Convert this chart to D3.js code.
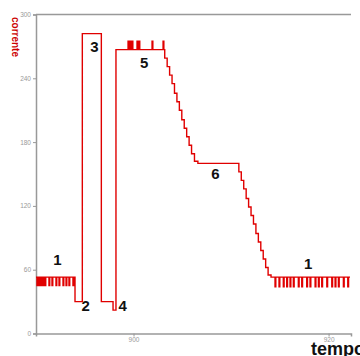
<!DOCTYPE html>
<html><head><meta charset="utf-8">
<script src="https://cdn.jsdelivr.net/npm/d3@7"></script>
<style>html,body{margin:0;padding:0;background:#fff;overflow:hidden}</style>
</head><body><svg id="c" width="360" height="356"></svg>
<script>
const yTicks = [0, 60, 120, 180, 240, 300];
const xTicks = [900, 920];
const xLabel = "tempo";
const yLabel = "corrente";
const time = [
 890.0, 890.1, 890.2, 890.3, 890.4, 890.5, 890.6, 890.7, 890.8, 890.9, 891.0,
 891.33, 891.41, 891.64, 891.72, 892.05, 892.13, 892.36, 892.44, 892.77, 892.85,
 893.08, 893.16, 893.38, 893.46, 893.79, 893.87,
 894.0, 894.75, 896.7, 897.9, 898.2,
 899.44, 899.52, 899.64, 899.72, 899.85, 899.93, 900.36, 900.44, 900.56, 900.64,
 901.9, 901.98, 903.03, 903.11,
 903.2, 903.45, 903.7, 903.95, 904.2, 904.45, 904.7, 904.95, 905.2, 905.45, 905.7, 905.95, 906.25, 906.6,
 910.8, 911.05, 911.3, 911.55, 911.8, 912.05, 912.3, 912.55, 912.8, 913.05, 913.3, 913.55, 913.8, 914.1,
 914.51, 914.59, 914.92, 915.0, 915.36, 915.44, 915.71, 915.79, 916.05, 916.13, 916.39, 916.47,
 916.9, 916.98, 917.25, 917.33, 917.76, 917.84, 918.1, 918.18, 918.62, 918.7, 918.96, 919.04,
 919.3, 919.38, 919.82, 919.9, 920.33, 920.41, 920.67, 920.75, 921.01, 921.09, 921.52, 921.6,
 921.97, 922.05, 922.2
];
const current = [
 53, 45, 53, 45, 53, 45, 53, 45, 53, 45, 53,
 45, 53, 45, 53, 45, 53, 45, 53, 45, 53,
 45, 53, 45, 53, 45, 53,
 30, 282, 30, 22, 267,
 275, 267, 275, 267, 275, 267, 275, 267, 275, 267,
 275, 267, 275, 267,
 259, 251, 243, 235, 226, 218, 210, 201, 193, 185, 177, 169, 162, 160,
 152, 144, 136, 127, 119, 111, 103, 94, 86, 78, 70, 62, 55, 53,
 44, 53, 44, 53, 44, 53, 44, 53, 44, 53, 44, 53,
 44, 53, 44, 53, 44, 53, 44, 53, 44, 53, 44, 53,
 44, 53, 44, 53, 44, 53, 44, 53, 44, 53, 44, 53,
 44, 53, 53
];
const labels = [
 {t: "1", x: 892.2, y: 64}, {t: "2", x: 895.1, y: 21}, {t: "3", x: 896.0, y: 265},
 {t: "4", x: 898.9, y: 21}, {t: "5", x: 901.1, y: 250}, {t: "6", x: 908.4, y: 145},
 {t: "1", x: 917.9, y: 61}
];

const svg = d3.select("#c");
const L = 36, R = 351, T = 14.5, B = 333.5;
const x = d3.scaleLinear().domain([890, 922.3]).range([L, R]);
const y = d3.scaleLinear().domain([0, 300]).range([B, T]);
const font = "'Liberation Sans', Arial, sans-serif";

svg.append("line").attr("x1", L).attr("x2", R).attr("y1", y(300)).attr("y2", y(300))
  .attr("stroke", "#999").attr("stroke-width", 1.5);

const ya = svg.append("g").attr("transform", `translate(${L},0)`)
  .call(d3.axisLeft(y).tickValues(yTicks).tickSize(3).tickPadding(2));
const xa = svg.append("g").attr("transform", `translate(0,${B})`)
  .call(d3.axisBottom(x).tickValues(xTicks).tickSize(3).tickPadding(1));
[ya, xa].forEach(g => {
  g.select(".domain").attr("stroke", "#999").attr("stroke-width", 1.5);
  g.selectAll(".tick line").attr("stroke", "#999");
  g.selectAll(".tick text").attr("fill", "#999").style("font-family", font).style("font-size", "6.5px");
});

const pts = time.map((t, i) => [t, current[i]]);
svg.append("path").datum(pts)
  .attr("fill", "none").attr("stroke", "#e00000").attr("stroke-width", 1.4)
  .attr("d", d3.line().x(d => x(d[0])).y(d => y(d[1])).curve(d3.curveStepAfter));

svg.selectAll(".lab").data(labels).enter().append("text")
  .attr("x", d => x(d.x)).attr("y", d => y(d.y))
  .attr("text-anchor", "middle").attr("font-family", font).attr("font-weight", "bold")
  .attr("font-size", 15).attr("fill", "#111").text(d => d.t);

svg.append("text").attr("transform", "translate(12,17) rotate(90)")
  .attr("font-family", font).attr("font-weight", "bold").attr("font-size", 10)
  .attr("fill", "#cc0000").text(yLabel);

svg.append("text").attr("x", 311).attr("y", 355)
  .attr("font-family", font).attr("font-weight", "bold").attr("font-size", 18)
  .attr("fill", "#111").text(xLabel);
</script></body></html>
